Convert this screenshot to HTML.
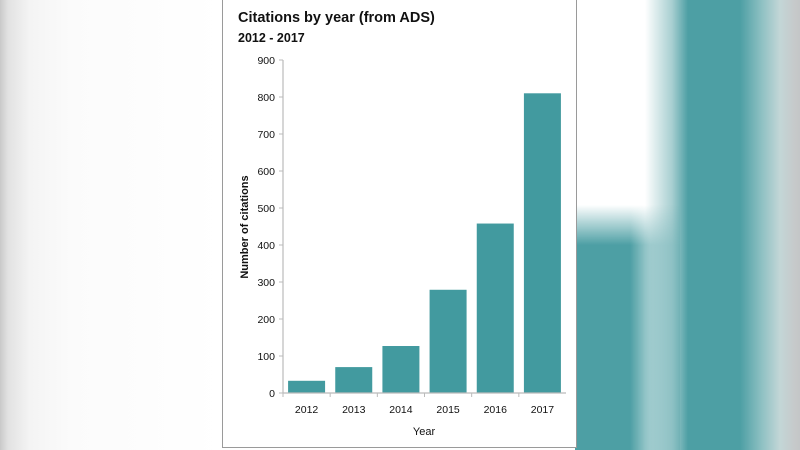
<!DOCTYPE html>
<html><head><meta charset="utf-8">
<style>
html,body{margin:0;padding:0;width:800px;height:450px;overflow:hidden;background:#fff;font-family:"Liberation Sans",sans-serif;}
#bg{position:absolute;left:0;top:0;width:800px;height:450px;overflow:hidden;}
.b{position:absolute;}
#card{position:absolute;left:222px;top:0;width:353px;height:447px;background:#fff;border:1px solid #9a9a9a;border-top:none;}
</style></head><body>
<div id="bg">
  <div class="b" style="left:0;top:0;width:222px;height:450px;background:linear-gradient(90deg,#c9c9c9 0px,#e2e2e2 8px,#f4f4f4 30px,#fbfbfb 70px,#fff 222px);"></div>
  <div class="b" style="left:580px;top:0;width:220px;height:450px;background:linear-gradient(90deg,#ffffff 0px,#ffffff 65px,#a8cfd1 92px,#4d9fa4 108px,#4d9fa4 160px,#8fc1c3 182px,#c3d6d7 200px,#c6c9ca 215px,#c4c6c7 220px);"></div>
  <div class="b" style="left:575px;top:205px;width:105px;height:245px;background:linear-gradient(180deg,rgba(77,159,164,0) 0px,rgba(77,159,164,1) 40px);-webkit-mask-image:linear-gradient(90deg,#000 0,#000 55px,rgba(0,0,0,0.5) 75px,rgba(0,0,0,0.2) 105px);mask-image:linear-gradient(90deg,#000 0,#000 55px,rgba(0,0,0,0.5) 75px,rgba(0,0,0,0.2) 105px);"></div>
</div>
<div id="card">
<svg id="chart" width="353" height="447" style="position:absolute;left:0;top:0">
  <text x="15" y="22" font-size="14.5" font-weight="bold" fill="#111">Citations by year (from ADS)</text>
  <text x="15" y="42" font-size="12.5" font-weight="bold" fill="#111">2012 - 2017</text>
  <text transform="translate(25,227) rotate(-90)" text-anchor="middle" font-size="11" font-weight="bold" fill="#111">Number of citations</text>
  <text x="201" y="435" text-anchor="middle" font-size="11" fill="#111">Year</text>
  <g id="marks"></g>
</svg>
</div>
<script>
const categories = ["2012","2013","2014","2015","2016","2017"];
const values = [33, 70, 127, 279, 458, 810];
const tickLabels = [0,100,200,300,400,500,600,700,800,900];
const ns="http://www.w3.org/2000/svg";
const g=document.getElementById('marks');
const x0=60, x1=343, yBase=393, yTop=60, vMax=900;
const yScale=v=>yBase-(v/vMax)*(yBase-yTop);
const slot=(x1-x0)/categories.length;
const xScale=i=>x0+slot*i;
function el(t,a){const e=document.createElementNS(ns,t);for(const k in a)e.setAttribute(k,a[k]);g.appendChild(e);return e;}
tickLabels.forEach(v=>{
  const y=yScale(v);
  const t=el('line',{x1:x0-4,x2:x0,y1:y,y2:y,stroke:'#bbb','stroke-width':1});
  
  
  const tx=el('text',{x:x0-8,y:y+4,'text-anchor':'end','font-size':10.5,fill:'#111'});
  tx.textContent=v;
  
  
});
categories.forEach((c,i)=>{
  const bw=37, bx=xScale(i)+(slot-bw)/2, y=yScale(values[i]);
  const r=el('rect',{x:bx,y:y,width:bw,height:yBase-y,fill:'#429a9f'});
  
  
  const t=el('line',{x1:xScale(i),x2:xScale(i),y1:yBase,y2:yBase+4,stroke:'#bbb','stroke-width':1});
  
  
  const tx=el('text',{x:xScale(i)+slot/2,y:yBase+20,'text-anchor':'middle','font-size':10.5,fill:'#111'});
  tx.textContent=c;
  
  
});
const ya=el('line',{x1:x0,x2:x0,y1:yTop,y2:yBase,stroke:'#bbb','stroke-width':1.2});


const xa=el('line',{x1:x0,x2:x1,y1:yBase,y2:yBase,stroke:'#bbb','stroke-width':1.2});


</script>
</body></html>
